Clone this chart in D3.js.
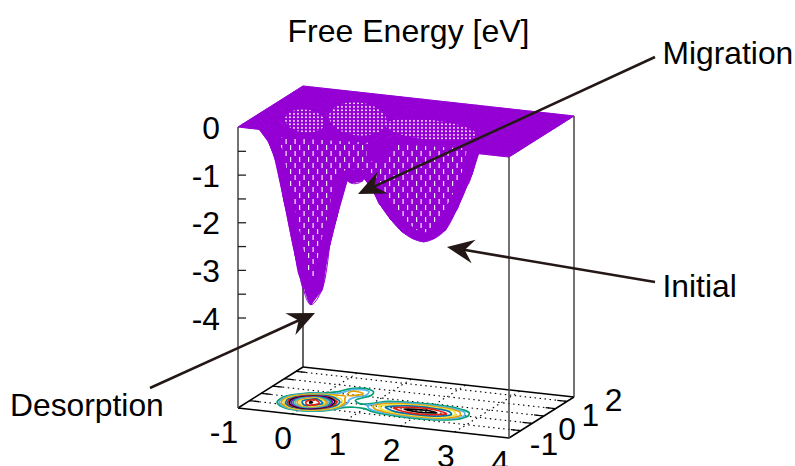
<!DOCTYPE html>
<html>
<head>
<meta charset="utf-8">
<script src="https://cdnjs.cloudflare.com/ajax/libs/d3/7.8.5/d3.min.js"></script>
<style>
body { margin: 0; background: #fff; }
text { font-family: "Liberation Sans", Arial, sans-serif; font-size: 31.8px; fill: #000; }
</style>
</head>
<body>
<script>
// grid: x = -1..4, y = -1..1.8, both in steps of 0.2
let xs = [-1,-.8,-.6,-.4,-.2,0,.2,.4,.6,.8,1,1.2,1.4,1.6,1.8,2,2.2,2.4,2.6,2.8,3,3.2,3.4,3.6,3.8,4];
let ys = [-1,-.8,-.6,-.4,-.2,0,.2,.4,.6,.8,1,1.2,1.4,1.6,1.8];
let zRows = [
[0,0,0,0,0,0,0,0,0,0,0,0,0,0,0,0,0,0,0,0,0,0,0,0,0,0],
[0,-.02,-.1,-.3,-.55,-.64,-.55,-.35,-.17,-.09,-.07,-.11,-.13,-.15,-.16,-.16,-.15,-.14,-.11,-.07,-.01,0,0,0,0,0],
[0,-.12,-.4,-1.0,-1.73,-2.04,-1.75,-1.11,-.55,-.28,-.23,-.37,-.43,-.48,-.51,-.51,-.49,-.45,-.35,-.23,-.04,-.01,0,0,0,0],
[0,-.2,-.68,-1.7,-2.79,-3.55,-2.95,-1.82,-.95,-.53,-.55,-.86,-1.0,-1.11,-1.18,-1.2,-1.14,-1.04,-.82,-.54,-.10,-.03,-.01,0,0,0],
[0,-.25,-.8,-2.0,-3.28,-3.85,-3.53,-2.18,-1.19,-1.03,-1.07,-1.41,-1.66,-1.84,-1.94,-1.98,-1.89,-1.72,-1.35,-.89,-.17,-.04,-.02,0,0,0],
[0,-.2,-.68,-1.7,-2.79,-3.6,-2.92,-2.0,-1.18,-1.04,-1.27,-1.67,-1.96,-2.18,-2.30,-2.34,-2.24,-2.04,-1.6,-1.05,-.2,-.05,-.02,0,0,0],
[0,-.12,-.4,-1.0,-1.75,-2.13,-1.99,-1.53,-1.07,-.80,-.87,-1.41,-1.66,-1.84,-1.94,-1.98,-1.89,-1.72,-1.35,-.89,-.17,-.04,-.02,0,0,0],
[0,-.05,-.2,-.48,-.83,-1.12,-1.32,-1.37,-1.18,-.84,-.67,-.86,-1.0,-1.11,-1.18,-1.2,-1.14,-1.04,-.82,-.54,-.10,-.03,-.01,0,0,0],
[0,-.02,-.07,-.17,-.33,-.61,-1.07,-1.49,-1.43,-.94,-.50,-.37,-.43,-.48,-.51,-.51,-.49,-.45,-.35,-.23,-.04,-.01,0,0,0,0],
[0,0,-.01,-.03,-.09,-.37,-.86,-1.34,-1.31,-.84,-.36,-.15,-.13,-.15,-.16,-.16,-.15,-.14,-.11,-.07,-.01,0,0,0,0,0],
[0,0,0,0,-.05,-.2,-.5,-.8,-.8,-.5,-.2,-.06,-.03,-.03,-.03,-.03,-.03,-.02,-.01,0,0,0,0,0,0,0],
[0,0,0,0,-.01,-.07,-.19,-.3,-.3,-.19,-.07,-.02,0,0,0,0,0,0,0,0,0,0,0,0,0,0],
[0,0,0,0,0,-.02,-.04,-.07,-.07,-.04,-.02,0,0,0,0,0,0,0,0,0,0,0,0,0,0,0],
[0,0,0,0,0,0,0,-.01,-.01,0,0,0,0,0,0,0,0,0,0,0,0,0,0,0,0,0],
[0,0,0,0,0,0,0,0,0,0,0,0,0,0,0,0,0,0,0,0,0,0,0,0,0,0]
];
let contourLevels = [-1,-1.2,-1.4,-1.6,-1.8,-2,-2.2,-2.4,-2.6,-2.8,-3,-3.2,-3.4,-3.6,-3.8];
let xTicks = [-1,0,1,2,3,4];
let yTicks = [-1,0,1,2];
let yGrid = [-.5,0,.5,1,1.5];
let zTicks = [0,-1,-2,-3,-4];
let zMinor = [-.5,-1,-1.5,-2,-2.5,-3,-3.5,-4];
let lineColors = ["#009e73","#56b4e9","#e69f00","#f0e442","#0072b2","#e51e10","#000000","#9400d3"];

// where the plateau opens up over the three wells, in x,y units
let openX = [-.1,.68,2.1];
let openY = [-.22,.24,.07];
let openRx = [20,29,46];
let openRy = [11.5,16.5,10];

let notes = [
  {label: "Migration", lx: 662.5, ly: 64, tail: [655,57], tip: [358,194]},
  {label: "Initial", lx: 662.5, ly: 297, tail: [655,282], tip: [447,247]},
  {label: "Desorption", lx: 10, ly: 416, tail: [150,388], tip: [315,313]}
];

let width = 795, height = 466;
let purple = "#9400d3", ink = "#231815";

let svg = d3.select("body").append("svg")
    .attr("width", width)
    .attr("height", height)
    .style("display", "block");

// oblique view, same as the gnuplot splot: each axis moves the point in screen x and y
let xPx = d3.scaleLinear().domain([-1,4]).range([0,271]);
let xPy = d3.scaleLinear().domain([-1,4]).range([0,30]);
let yPx = d3.scaleLinear().domain([-1,1.8]).range([0,65]);
let yPy = d3.scaleLinear().domain([-1,1.8]).range([0,-41]);
let zPy = d3.scaleLinear().domain([0,-5.9]).range([127,408]);

function proj(x, y, z) {
    return [238 + xPx(x) + yPx(y), zPy(z) + xPy(x) + yPy(y)];
}
let zBase = zPy.domain()[1];

let defs = svg.append("defs");

// gaps of the fine mesh, drawn as pale marks over the solid surface
function holePattern(id, w, h, d) {
    defs.append("pattern").attr("id", id)
        .attr("patternUnits", "userSpaceOnUse")
        .attr("width", w).attr("height", h)
      .append("path")
        .attr("fill", "#f6ecfb")
        .attr("d", d);
}
holePattern("dots", 4, 3.5, "M1,1h1.9v1.6h-1.9Z");
holePattern("slits", 9, 12, "M2,1h1.2v5h-1.2Z M6.5,7h1.2v5h-1.2Z");

// shrink and round a shape, gives the solid fringe round the walls
let wallFilter = defs.append("filter").attr("id", "erodeWall")
    .attr("filterUnits", "userSpaceOnUse")
    .attr("x", 0).attr("y", 0).attr("width", width).attr("height", height);
wallFilter.append("feMorphology").attr("operator", "erode").attr("radius", "8 6");
wallFilter.append("feGaussianBlur").attr("stdDeviation", 2.5);
wallFilter.append("feComponentTransfer").append("feFuncA")
    .attr("type", "linear").attr("slope", 10).attr("intercept", -4.5);

// back lines of the box
let back = svg.append("g").attr("fill", "none");
function seg(g, a, b, color, w, dash) {
    g.append("line")
        .attr("x1", a[0]).attr("y1", a[1]).attr("x2", b[0]).attr("y2", b[1])
        .attr("stroke", color).attr("stroke-width", w)
        .attr("stroke-dasharray", dash || null);
}
xTicks.slice(1, -1).forEach(function(x) {
    seg(back, proj(x,-1,zBase), proj(x,1.8,zBase), "#000", 1.1, "1.5,3.5");
});
yGrid.forEach(function(y) {
    seg(back, proj(-1,y,zBase), proj(4,y,zBase), "#000", 1.1, "1.5,3.5");
    seg(back, proj(-1,y,zBase), proj(-.82,y,zBase), "#000", 1.3);
    seg(back, proj(4,y,zBase), proj(3.82,y,zBase), "#000", 1.3);
});
seg(back, proj(-1,1.8,0), proj(-1,1.8,zBase), "#222", 1.4);
seg(back, proj(-1,1.8,zBase), proj(4,1.8,zBase), "#000", 1.5);
seg(back, proj(-1,-1,zBase), proj(-1,1.8,zBase), "#000", 1.5);
seg(back, proj(4,-1,zBase), proj(4,1.8,zBase), "#000", 1.5);
seg(back, proj(-1,-1,zBase), proj(4,-1,zBase), "#000", 1.5);

// contours on the base, d3.contours works on the flat grid in cell units
let flat = d3.merge(zRows).map(function(d) { return -d; });
let cx = d3.scaleLinear().domain([.5, xs.length - .5]).range([xs[0], xs[xs.length-1]]);
let cy = d3.scaleLinear().domain([.5, ys.length - .5]).range([ys[0], ys[ys.length-1]]);
let contours = d3.contours()
    .size([xs.length, ys.length])
    .thresholds(contourLevels.map(function(d) { return -d; }))(flat);
let ringLine = d3.line().curve(d3.curveCatmullRomClosed);

svg.append("g").attr("fill", "none").attr("stroke-width", 1.7)
  .selectAll("path")
  .data(contours)
  .enter().append("path")
    .attr("stroke", function(d, i) { return lineColors[i % lineColors.length]; })
    .attr("d", function(d) {
        let out = "";
        d.coordinates.forEach(function(poly) {
            poly.forEach(function(ring) {
                out += ringLine(ring.slice(0,-1).map(function(p) {
                    return proj(cx(p[0]), cy(p[1]), zBase);
                }));
            });
        });
        return out;
    });

// surface: solid cells, then the grid lines on top of them for the smooth outline
let surf = svg.append("g");
let cells = [];
ys.slice(1).forEach(function(y, j) {
    xs.slice(1).forEach(function(x, i) {
        cells.push([
            proj(xs[i], ys[j], zRows[j][i]),
            proj(xs[i+1], ys[j], zRows[j][i+1]),
            proj(xs[i+1], ys[j+1], zRows[j+1][i+1]),
            proj(xs[i], ys[j+1], zRows[j+1][i])
        ]);
    });
});
function cellPath(c) { return "M" + c.join("L") + "Z"; }

surf.selectAll("path.cell")
    .data(cells)
    .enter().append("path")
    .attr("class", "cell")
    .attr("fill", purple)
    .attr("stroke", purple)
    .attr("stroke-width", .5)
    .attr("d", cellPath);

let meshLine = d3.line().curve(d3.curveCatmullRom);
let rowLines = zRows.map(function(row, j) {
    return row.map(function(z, i) { return proj(xs[i], ys[j], z); });
});
let colLines = xs.map(function(x, i) {
    return ys.map(function(y, j) { return proj(x, y, zRows[j][i]); });
});
surf.selectAll("path.mesh")
    .data(rowLines.concat(colLines))
    .enter().append("path")
    .attr("class", "mesh")
    .attr("fill", "none")
    .attr("stroke", purple)
    .attr("stroke-width", 1)
    .attr("d", meshLine);

// steep cells open up as slits below the front strip of the plateau
let wallCells = cells.filter(function(c) { return Math.abs(d3.polygonArea(c)) > 130; });

let wallMask = defs.append("mask").attr("id", "maskWall")
    .attr("maskUnits", "userSpaceOnUse")
    .attr("x", 0).attr("y", 0).attr("width", width).attr("height", height);
wallMask.append("g").attr("filter", "url(#erodeWall)")
  .selectAll("path").data(wallCells).enter().append("path")
    .attr("fill", "#fff").attr("d", cellPath);
defs.append("clipPath").attr("id", "belowStrip")
  .append("polygon").attr("points", [[238,135],[509,151],[600,156],[600,466],[230,466]].join(" "));
surf.append("g").attr("clip-path", "url(#belowStrip)")
  .append("rect")
    .attr("width", width).attr("height", height)
    .attr("fill", "url(#slits)")
    .attr("mask", "url(#maskWall)");

// above the strip the openings read as rounded fields of dots
let openAngle = Math.atan2(xPy(4) - xPy(-1), xPx(4) - xPx(-1)) * 180 / Math.PI;
let domeMask = defs.append("mask").attr("id", "maskDome")
    .attr("maskUnits", "userSpaceOnUse")
    .attr("x", 0).attr("y", 0).attr("width", width).attr("height", height);
openX.forEach(function(x, i) {
    let c = proj(x, openY[i], 0);
    domeMask.append("ellipse")
        .attr("cx", 0).attr("cy", 0)
        .attr("rx", openRx[i]).attr("ry", openRy[i])
        .attr("fill", "#fff")
        .attr("transform", "translate(" + c + ") rotate(" + openAngle + ")");
});
surf.append("rect")
    .attr("width", width).attr("height", height)
    .attr("fill", "url(#dots)")
    .attr("mask", "url(#maskDome)");

// front lines of the box
seg(svg, proj(-1,-1,0), proj(-1,-1,zBase), "#444", 1.5);
seg(svg, proj(4,-1,0), proj(4,-1,zBase), "#444", 1.5);
seg(svg, proj(4,1.8,0), proj(4,1.8,zBase), "#444", 1.5);

// z axis, ticks point into the box
let zAxis = svg.append("g")
    .attr("transform", "translate(" + proj(-1,-1,0)[0] + ",0)")
    .call(d3.axisRight(zPy).tickValues(zMinor).tickSize(8).tickFormat(""));
zAxis.select(".domain").remove();
zAxis.selectAll("line").attr("stroke", "#222").attr("stroke-width", 1.3);

svg.append("g").selectAll("text")
    .data(zTicks)
    .enter().append("text")
    .attr("x", 220)
    .attr("y", function(d) { return zPy(d) + 12; })
    .attr("text-anchor", "end")
    .text(function(d) { return d; });

svg.append("g").selectAll("text")
    .data(xTicks)
    .enter().append("text")
    .attr("x", function(d) { return proj(d,-1,zBase)[0] - (d < 0 ? 14 : 9); })
    .attr("y", function(d) { return proj(d,-1,zBase)[1] + 35; })
    .attr("text-anchor", "middle")
    .text(function(d) { return d; });

svg.append("g").selectAll("text")
    .data(yTicks)
    .enter().append("text")
    .attr("x", function(d) { return proj(4,d,zBase)[0] + 35; })
    .attr("y", function(d) { return proj(4,d,zBase)[1] + 17; })
    .attr("text-anchor", "middle")
    .text(function(d) { return d; });

svg.append("text")
    .attr("x", 408.5).attr("y", 42)
    .attr("text-anchor", "middle")
    .style("font-size", "32px")
    .text("Free Energy [eV]");

// annotation arrows with the swept back head
let arrows = svg.append("g");
notes.forEach(function(n) {
    let dx = n.tip[0] - n.tail[0], dy = n.tip[1] - n.tail[1];
    let len = Math.hypot(dx, dy);
    let ux = dx / len, uy = dy / len;
    function at(along, side) {
        return [n.tip[0] - ux * along - uy * side, n.tip[1] - uy * along + ux * side];
    }
    seg(arrows, n.tail, at(14, 0), ink, 2.6);
    arrows.append("path")
        .attr("fill", ink)
        .attr("d", "M" + [n.tip, at(27, 12), at(18, 0), at(27, -12)].join("L") + "Z");
    arrows.append("text")
        .attr("x", n.lx).attr("y", n.ly)
        .text(n.label);
});
</script>
</body>
</html>
